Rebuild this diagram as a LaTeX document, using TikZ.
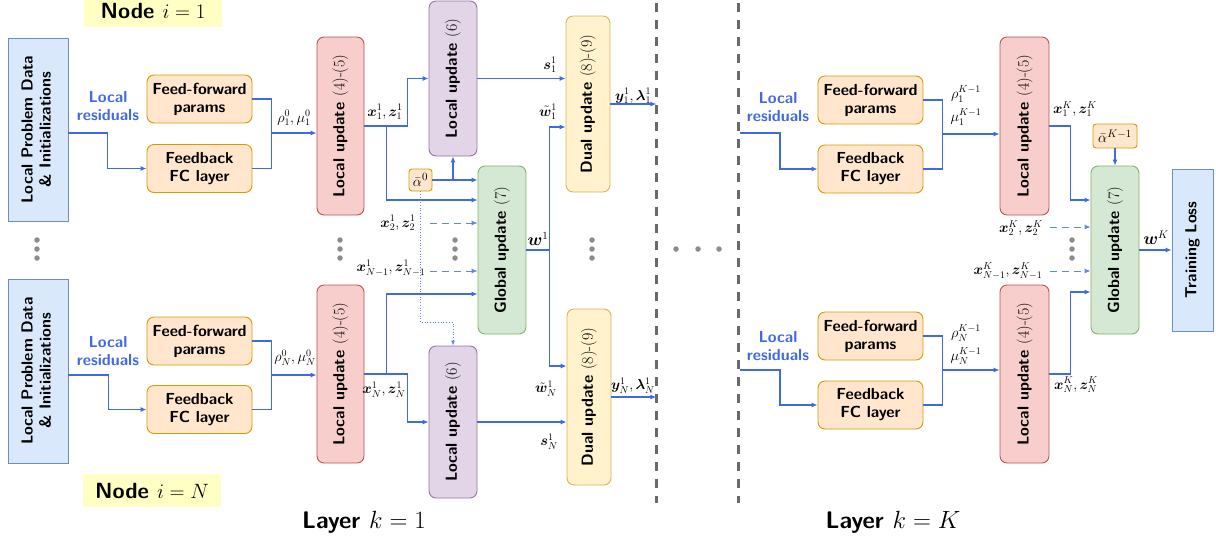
\documentclass[tikz,border=0pt]{standalone}
\usepackage{amsmath,bm}
\usetikzlibrary{arrows.meta,calc}
\definecolor{bfill}{HTML}{DAE8FC}\definecolor{bdraw}{HTML}{6C8EBF}
\definecolor{ofill}{HTML}{FFE6CC}\definecolor{odraw}{HTML}{D79B00}
\definecolor{rfill}{HTML}{F8CECC}\definecolor{rdraw}{HTML}{B85450}
\definecolor{pfill}{HTML}{E1D5E7}\definecolor{pdraw}{HTML}{9673A6}
\definecolor{gfill}{HTML}{D5E8D4}\definecolor{gdraw}{HTML}{82B366}
\definecolor{yfill}{HTML}{FFF2CC}\definecolor{ydraw}{HTML}{D6B656}
\definecolor{ablue}{RGB}{65,105,225}
\definecolor{lblue}{RGB}{100,135,230}
\definecolor{nyel}{RGB}{255,255,196}
\definecolor{dgray}{RGB}{140,140,140}
\definecolor{sgray}{RGB}{105,105,105}
\begin{document}
\begin{tikzpicture}[x=1pt,y=-1pt,
  box/.style={draw, line width=0.9pt, rounded corners=7pt, inner sep=0pt,
    font=\fontsize{16}{18}\selectfont\sffamily\bfseries, align=center},
  bluebox/.style={box, rounded corners=0pt, fill=bfill, draw=bdraw},
  orbox/.style={box, fill=ofill, draw=odraw},
  redbox/.style={box, fill=rfill, draw=rdraw},
  pubox/.style={box, fill=pfill, draw=pdraw},
  grbox/.style={box, fill=gfill, draw=gdraw},
  yebox/.style={box, fill=yfill, draw=ydraw},
  albox/.style={orbox, rounded corners=3pt, font=\fontsize{15}{17}\selectfont},
  ln/.style={draw=ablue, line width=1.1pt},
  arr/.style={ln, -{Latex[length=6pt,width=5pt]}},
  dsh/.style={draw=lblue, line width=0.9pt, dash pattern=on 7pt off 5pt, -{Latex[length=6pt,width=5pt]}},
  dtd/.style={draw=lblue, line width=0.7pt, dotted, -{Latex[length=5pt,width=4pt]}},
  dotn/.style={circle, fill=dgray, inner sep=0pt, minimum size=5.5pt},
  lbl/.style={font=\fontsize{14}{16}\selectfont, inner sep=0pt},
  res/.style={font=\fontsize{16}{18}\selectfont\sffamily\bfseries, text=ablue, align=center, inner sep=0pt},
  sep/.style={draw=sgray, line width=3pt, dash pattern=on 9pt off 8pt},
  nodelbl/.style={fill=nyel, font=\fontsize{22}{24}\selectfont\sffamily\bfseries, minimum width=138pt, minimum height=33pt, inner sep=0pt},
  layerlbl/.style={font=\fontsize{24}{26}\selectfont\sffamily\bfseries, inner sep=0pt}
]
\useasboundingbox (0,0) rectangle (1216,542);

% ---------- node labels ----------
\node[nodelbl] (ni1) at (153,10.5) {Node $i=1$};
\node[nodelbl] (niN) at (152,490.5) {Node $i=N$};
\node[layerlbl] (ly1) at (364,522) {Layer $k=1$};
\node[layerlbl] (lyK) at (893,522) {Layer $k=K$};

% ---------- layer 1, node 1 ----------
\node[bluebox, minimum width=60pt, minimum height=183pt] (L1) at (38,129.5)
  {\rotatebox{90}{\begin{tabular}{@{}c@{}}Local Problem Data\\\& Initializations\end{tabular}}};
\node[orbox, minimum width=105pt, minimum height=48pt] (ff1) at (199.5,99) {Feed-forward\\params};
\node[orbox, minimum width=105pt, minimum height=48pt] (fc1) at (199.5,168.5) {Feedback\\FC layer};
\node[redbox, minimum width=47pt, minimum height=178pt] (lu1) at (340.5,126)
  {\rotatebox{90}{Local update \textrm{\mdseries(4)-(5)}}};
\node[pubox, minimum width=48pt, minimum height=155pt] (pu1) at (453,78.5)
  {\rotatebox{90}{Local update \textrm{\mdseries(6)}}};
\node[grbox, minimum width=48pt, minimum height=168pt] (gu) at (502,250)
  {\rotatebox{90}{Global update \textrm{\mdseries(7)}}};
\node[yebox, minimum width=44pt, minimum height=176pt] (du1) at (588,104)
  {\rotatebox{90}{Dual update \textrm{\mdseries(8)-(9)}}};
\node[albox, minimum width=23pt, minimum height=22pt] (al) at (420.5,180) {$\bar{\alpha}^0$};

% ---------- layer 1, node N ----------
\node[bluebox, minimum width=60pt, minimum height=184pt] (LN) at (38,371)
  {\rotatebox{90}{\begin{tabular}{@{}c@{}}Local Problem Data\\\& Initializations\end{tabular}}};
\node[orbox, minimum width=105pt, minimum height=48pt] (ffN) at (199.5,341) {Feed-forward\\params};
\node[orbox, minimum width=105pt, minimum height=48pt] (fcN) at (199.5,409.5) {Feedback\\FC layer};
\node[redbox, minimum width=47pt, minimum height=178pt] (luN) at (340.5,374)
  {\rotatebox{90}{Local update \textrm{\mdseries(4)-(5)}}};
\node[pubox, minimum width=48pt, minimum height=152pt] (puN) at (453,422)
  {\rotatebox{90}{Local update \textrm{\mdseries(6)}}};
\node[yebox, minimum width=44pt, minimum height=176pt] (duN) at (589,397)
  {\rotatebox{90}{Dual update \textrm{\mdseries(8)-(9)}}};

% residual labels
\node[res] (r1) at (108,106) {Local\\residuals};
\node[res] (rN) at (108,351) {Local\\residuals};
\node[res] (rK1) at (778,107) {Local\\residuals};
\node[res] (rKN) at (778,346) {Local\\residuals};

% ---------- layer 1 connectors ----------
\coordinate (j1) at ($(lu1.west)+(-45,7)$);
\draw[arr] (L1.east |- j1) -- ++(39,0) |- (fc1.west);
\draw[ln] (ff1.east) -| (j1);
\draw[ln] (fc1.east) -| (j1);
\draw[arr] (j1) -- (j1 -| lu1.west);
\draw[arr] (lu1.east) -- ++(43,0) |- (pu1.west);
\draw[arr] ($(lu1.east)+(22,0)$) |- ($(gu.west)+(0,-50)$);
\draw[arr] (al.east) -- (al.east -| gu.west);
\draw[arr] (al.east -| pu1.south) -- (pu1.south);
\draw[dtd] (al.south) -- ($(al.south)+(0,131)$) -| (puN.north);
\coordinate (s2) at (430,223);
\coordinate (sN1) at (430,271);
\draw[dsh] (s2) -- (s2 -| gu.west);
\draw[dsh] (sN1) -- (sN1 -| gu.west);

\coordinate (jN) at ($(luN.west)+(-45,1)$);
\draw[arr] (LN.east |- jN) -- ++(40,0) |- (fcN.west);
\draw[ln] (ffN.east) -| (jN);
\draw[ln] (fcN.east) -| (jN);
\draw[arr] (jN) -- (jN -| luN.west);
\draw[arr] (luN.east) -- ++(22,0) |- ($(gu.west)+(0,44)$);
\draw[arr] (luN.east) -- ++(43,0) |- (puN.west);

\draw[ln] (gu.east) -- ++(23,0) coordinate (wj);
\draw[arr] (wj) |- ($(du1.west)+(0,23)$);
\draw[arr] (wj) |- ($(duN.west)+(0,-31)$);
\draw[arr] (pu1.east) -- (pu1.east -| du1.west);
\draw[arr] (puN.east) -- (puN.east -| duN.west);
\draw[arr] (du1.east) -- ++(46,0);
\draw[arr] (duN.east) -- ++(45,0);

% labels layer 1
\node[lbl] (lrho1) at (294,118) {$\rho_1^0,\mu_1^0$};
\node[lbl] (lrhoN) at (295,358) {$\rho_N^0,\mu_N^0$};
\node[lbl] (lx11) at (385,112) {$\bm{x}_1^1,\bm{z}_1^1$};
\node[lbl] (lxN1) at (384,390) {$\bm{x}_N^1,\bm{z}_N^1$};
\node[lbl] (lx21) at (398,223) {$\bm{x}_2^1,\bm{z}_2^1$};
\node[lbl] (lxM1) at (391,268) {$\bm{x}_{N-1}^1,\bm{z}_{N-1}^1$};
\node[lbl] (ls11) at (550,65) {$\bm{s}_1^1$};
\node[lbl] (lwt1) at (548,112) {$\tilde{\bm{w}}_1^1$};
\node[lbl, font=\fontsize{16}{18}\selectfont] (lw1) at (538,239) {$\bm{w}^1$};
\node[lbl] (ly11) at (633,96) {$\bm{y}_1^1,\bm{\lambda}_1^1$};
\node[lbl] (lwtN) at (546,389) {$\tilde{\bm{w}}_N^1$};
\node[lbl] (lsN1) at (549,442) {$\bm{s}_N^1$};
\node[lbl] (lyN1) at (633,386) {$\bm{y}_N^1,\bm{\lambda}_N^1$};

% dots
\foreach \x/\n in {37/a,340/b,455/c,592/d,1072/e}{
  \node[dotn] (dv\n1) at (\x,240) {};
  \node[dotn] (dv\n2) at (\x,249) {};
  \node[dotn] (dv\n3) at (\x,258) {};
}
\node[dotn] (dh1) at (676,249) {};
\node[dotn] (dh2) at (698,249) {};
\node[dotn] (dh3) at (719,249) {};

% separators
\coordinate (sp1a) at (656,3); \coordinate (sp1b) at (656,503);
\coordinate (sp2a) at (738,3); \coordinate (sp2b) at (738,503);
\draw[sep] (sp1a) -- (sp1b);
\draw[sep] (sp2a) -- (sp2b);

% ---------- layer K ----------
\node[orbox, minimum width=105pt, minimum height=48pt] (ffK1) at (870.5,100) {Feed-forward\\params};
\node[orbox, minimum width=105pt, minimum height=48pt] (fcK1) at (870.5,169) {Feedback\\FC layer};
\node[redbox, minimum width=49pt, minimum height=178pt] (luK1) at (1024.5,126)
  {\rotatebox{90}{Local update \textrm{\mdseries(4)-(5)}}};
\node[albox, minimum width=44pt, minimum height=24pt] (alK) at (1115,136) {$\bar{\alpha}^{K-1}$};
\node[grbox, minimum width=48pt, minimum height=168pt] (guK) at (1115,250)
  {\rotatebox{90}{Global update \textrm{\mdseries(7)}}};
\node[bluebox, minimum width=41pt, minimum height=162pt] (tl) at (1192.5,250)
  {\rotatebox{90}{Training Loss}};
\node[orbox, minimum width=105pt, minimum height=48pt] (ffKN) at (870.5,336) {Feed-forward\\params};
\node[orbox, minimum width=105pt, minimum height=48pt] (fcKN) at (870.5,405) {Feedback\\FC layer};
\node[redbox, minimum width=49pt, minimum height=178pt] (luKN) at (1024.5,374)
  {\rotatebox{90}{Local update \textrm{\mdseries(4)-(5)}}};

\coordinate (rin1) at (740,133);
\coordinate (rinN) at (740,370);
\coordinate (jK1) at ($(luK1.west)+(-57,8)$);
\coordinate (jKN) at ($(luKN.west)+(-57,-4)$);
\draw[arr] (rin1) -- ++(40,0) |- (fcK1.west);
\draw[ln] (ffK1.east) -| (jK1);
\draw[ln] (fcK1.east) -| (jK1);
\draw[arr] (jK1) -- (jK1 -| luK1.west);
\draw[arr] (rinN) -- ++(40,0) |- (fcKN.west);
\draw[ln] (ffKN.east) -| (jKN);
\draw[ln] (fcKN.east) -| (jKN);
\draw[arr] (jKN) -- (jKN -| luKN.west);
\draw[arr] (luK1.east) -- ++(21,0) |- ($(guK.west)+(0,-50)$);
\draw[arr] (luKN.east) -- ++(21,0) |- ($(guK.west)+(0,42)$);
\draw[arr] (alK.south) -- (guK.north);
\coordinate (sK2) at (1050,227);
\coordinate (sKM) at (1050,271);
\draw[dsh] (sK2) -- (sK2 -| guK.west);
\draw[dsh] (sKM) -- (sKM -| guK.west);
\draw[arr] (guK.east) -- (guK.east -| tl.west);

\node[lbl] (lrK1) at (966,94) {$\rho_1^{K-1}$};
\node[lbl] (lmK1) at (966,117) {$\mu_1^{K-1}$};
\node[lbl] (lrKN) at (966,333) {$\rho_N^{K-1}$};
\node[lbl] (lmKN) at (966,356) {$\mu_N^{K-1}$};
\node[lbl] (lx1K) at (1075,109) {$\bm{x}_1^K,\bm{z}_1^K$};
\node[lbl] (lx2K) at (1021,228) {$\bm{x}_2^K,\bm{z}_2^K$};
\node[lbl] (lxMK) at (1008,271) {$\bm{x}_{N-1}^K,\bm{z}_{N-1}^K$};
\node[lbl] (lxNK) at (1076,385) {$\bm{x}_N^K,\bm{z}_N^K$};
\node[lbl, font=\fontsize{16}{18}\selectfont] (lwK) at (1156,238) {$\bm{w}^K$};
\end{tikzpicture}
\end{document}
